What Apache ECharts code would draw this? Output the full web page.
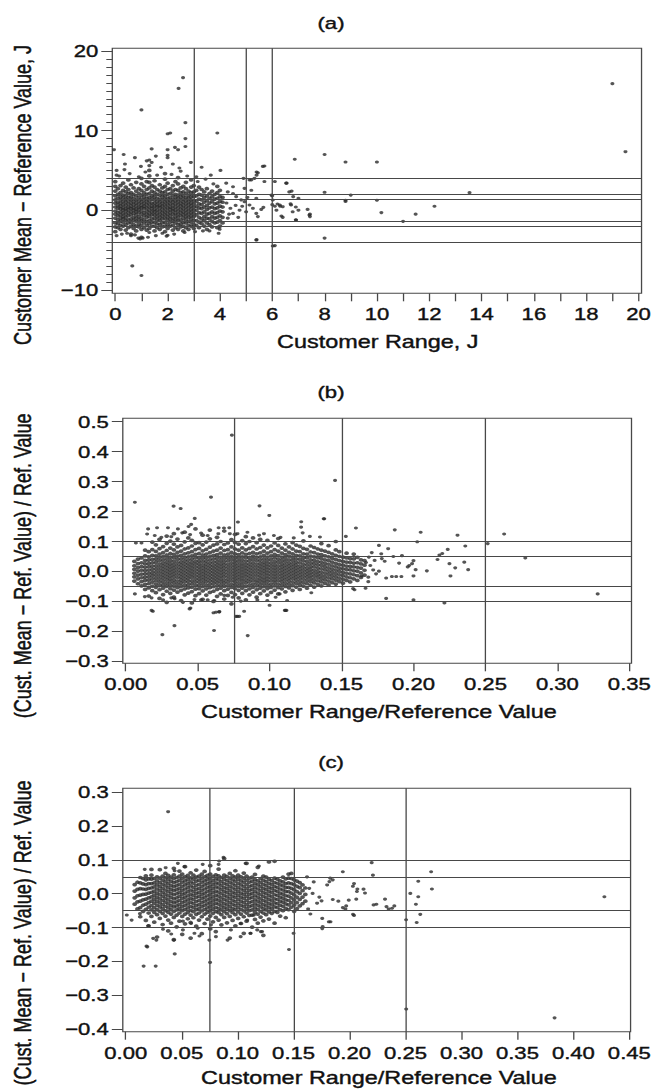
<!DOCTYPE html>
<html>
<head>
<meta charset="utf-8">
<script src="https://cdn.jsdelivr.net/npm/echarts@6/dist/echarts.min.js"></script>
<style>
  html, body { margin: 0; padding: 0; background: #fff; overflow: hidden; }
  /* the scanned figure is stretched sideways, so the chart is drawn narrow and widened */
  #chart { width: 504px; height: 1090px; transform: scaleX(1.2996); transform-origin: 0 0; }
</style>
</head>
<body>
<div id="chart"></div>
<script>
const K = 655 / 504;
const sx = v => v / K;

// ---------- panel (a): Customer Range, J vs Customer Mean - Reference Value, J
const aXTicks = [0,1,2,3,4,5,6,7,8,9,10,11,12,13,14,15,16,17,18,19,20];
const aXLabels = [0,2,4,6,8,10,12,14,16,18,20];
const aYMajor = [-10,0,10,20];
const aYMinor = [-10,-9,-8,-7,-6,-5,-4,-3,-2,-1,0,1,2,3,4,5,6,7,8,9,10,11,12,13,14,15,16,17,18,19,20];
const aVLines = [3,5,6];
const aHLines = [4,2,1.4,-1.4,-2,-4];
// columns: [range, mean-ref values...]
const aCore = [
  [0.0,-2.7,-2.1,-1.6,-1.0,-0.5,-0.1,0.4,0.9,1.3,1.8,2.4,3.0,3.6],
  [0.1,-2.2,-1.7,-1.2,-0.7,-0.3,0.2,0.6,1.0,1.5,2.0,2.7],
  [0.2,-2.4,-1.9,-1.4,-1.0,-0.6,-0.2,0.2,0.5,0.9,1.3,1.7,2.2,3.1],
  [0.3,-2.0,-1.5,-1.1,-0.8,-0.4,0.0,0.3,0.7,1.1,1.5,1.9,2.5,3.4],
  [0.4,-2.5,-1.8,-1.3,-0.9,-0.5,-0.1,0.2,0.6,1.0,1.4,1.8,2.3,2.9],
  [0.5,-2.2,-1.6,-1.2,-0.7,-0.3,0.1,0.4,0.8,1.2,1.6,2.1,2.6,3.8],
  [0.6,-3.0,-2.0,-1.5,-1.1,-0.6,-0.2,0.2,0.5,0.9,1.3,1.7,2.2,3.2],
  [0.7,-2.3,-1.8,-1.3,-0.9,-0.4,0.0,0.3,0.7,1.1,1.5,2.0,2.8],
  [0.8,-2.6,-2.0,-1.4,-1.0,-0.6,-0.2,0.1,0.5,0.9,1.3,1.8,2.4,3.5],
  [0.9,-2.1,-1.7,-1.2,-0.8,-0.3,0.1,0.4,0.8,1.2,1.6,2.1,2.7],
  [1.0,-3.4,-2.4,-1.9,-1.4,-1.0,-0.5,-0.1,0.3,0.6,1.0,1.4,1.9,2.5,3.3,4.0],
  [1.1,-2.2,-1.6,-1.2,-0.7,-0.3,0.2,0.5,0.9,1.3,1.7,2.2,3.0],
  [1.2,-2.5,-1.9,-1.4,-0.9,-0.5,-0.1,0.3,0.7,1.1,1.5,2.0,2.6,3.6],
  [1.3,-2.3,-1.7,-1.3,-0.8,-0.4,0.0,0.4,0.8,1.2,1.6,2.1,2.8,3.5,4.3,5.0],
  [1.4,-2.0,-1.5,-1.1,-0.6,-0.2,0.2,0.5,0.9,1.4,1.8,2.4,3.1],
  [1.5,-2.6,-2.0,-1.5,-1.0,-0.6,-0.2,0.1,0.5,0.9,1.3,1.7,2.2,2.9,3.7],
  [1.6,-2.2,-1.7,-1.2,-0.8,-0.4,0.0,0.4,0.7,1.1,1.5,2.0,2.6],
  [1.7,-2.4,-1.8,-1.3,-0.9,-0.5,-0.1,0.3,0.6,1.0,1.4,1.9,2.4,3.2],
  [1.8,-2.1,-1.6,-1.1,-0.7,-0.3,0.1,0.5,0.9,1.3,1.7,2.2,2.8],
  [1.9,-2.7,-2.0,-1.5,-1.0,-0.6,-0.2,0.2,0.6,1.0,1.4,1.8,2.3,3.0,3.9,4.6],
  [2.0,-2.3,-1.8,-1.3,-0.9,-0.5,-0.1,0.3,0.7,1.1,1.5,2.0,2.6,3.4],
  [2.1,-2.0,-1.5,-1.1,-0.7,-0.3,0.1,0.4,0.8,1.2,1.6,2.1,2.7],
  [2.2,-2.5,-1.9,-1.4,-1.0,-0.5,-0.1,0.2,0.6,1.0,1.4,1.9,2.4,3.1],
  [2.3,-2.2,-1.6,-1.2,-0.8,-0.4,0.0,0.4,0.8,1.2,1.6,2.0,2.6,3.6],
  [2.4,-2.4,-1.8,-1.3,-0.9,-0.5,-0.1,0.3,0.7,1.1,1.5,1.9,2.5,3.3,4.1],
  [2.5,-2.1,-1.7,-1.2,-0.7,-0.3,0.1,0.5,0.9,1.3,1.7,2.2,2.8],
  [2.6,-2.6,-2.0,-1.5,-1.0,-0.6,-0.2,0.2,0.6,1.0,1.4,1.8,2.3,3.0],
  [2.7,-2.2,-1.6,-1.2,-0.8,-0.4,0.0,0.4,0.8,1.2,1.6,2.1,2.7,3.5],
  [2.8,-2.4,-1.9,-1.4,-0.9,-0.5,-0.1,0.3,0.7,1.1,1.5,1.9,2.4],
  [2.9,-2.0,-1.5,-1.1,-0.7,-0.3,0.1,0.5,0.9,1.3,1.7,2.2,2.9,3.8],
  [3.0,-2.3,-1.8,-1.3,-0.8,-0.4,0.0,0.4,0.8,1.2,1.7,2.3,3.1],
  [3.1,-1.9,-1.3,-0.6,0.0,0.5,1.1,1.8,2.5],
  [3.2,-2.2,-1.5,-0.9,-0.3,0.3,0.8,1.4,2.0,2.9],
  [3.3,-1.7,-1.1,-0.4,0.2,0.7,1.3,1.9,2.6],
  [3.4,-2.0,-1.3,-0.8,-0.2,0.4,1.0,1.6,2.3],
  [3.5,-2.4,-1.6,-1.0,-0.5,0.1,0.6,1.2,1.8,2.7],
  [3.6,-1.8,-1.1,-0.4,0.3,0.9,1.5,2.1],
  [3.7,-2.1,-1.4,-0.8,-0.2,0.4,1.1,1.7,2.4],
  [3.8,-1.6,-1.0,-0.4,0.2,0.8,1.4,2.0],
  [3.9,-2.2,-1.5,-0.9,-0.3,0.3,0.9,1.5,2.2,3.0],
  [4.0,-2.0,-1.3,-0.7,-0.1,0.5,1.1,1.7,2.5],
  [4.1,-1.6,-0.9,-0.2,0.4,1.0,1.6]
];
const aSparse = [
  [2.59,16.65],[2.42,15.3],[1.0,12.6],[2.68,11.0],[2.0,9.6],[2.1,9.7],[3.9,9.7],[2.68,9.0],[2.68,8.0],
  [1.39,7.7],[-0.05,7.6],[0.32,7.0],[2.0,7.6],[2.0,6.9],[2.0,6.6],[2.28,7.9],[2.4,7.6],[2.89,6.0],
  [3.3,5.4],[4.02,5.0],[0.37,5.8],[0.98,5.5],[1.39,6.0],[6.86,6.4],[8.0,7.0],[8.8,6.05],[10.0,6.05],
  [19.0,15.9],[19.5,7.35],[5.7,5.55],[5.4,4.8],[5.4,4.4],[4.9,4.0],[5.2,3.8],[5.7,3.6],[6.55,3.4],
  [6.74,2.4],[8.0,2.25],[6.8,1.7],[7.0,1.5],[9.0,1.9],[8.8,1.25],[8.8,1.1],[10.0,1.25],[13.54,2.2],
  [12.2,0.5],[10.17,-0.3],[11.48,-0.5],[11.0,-1.4],[8.0,-3.5],[6.1,-4.45],[5.4,-3.7],[0.95,-3.6],
  [1.05,-3.5],[0.65,-7.0],[1.0,-8.2],[2.0,-3.15],[0.6,-3.2],[1.3,-2.8],[7.44,-0.8],[7.44,-0.5],
  [7.0,0.0],[6.9,-1.2],[6.4,-0.9],[6.9,0.4],[6.7,0.8],[6.3,0.5],[6.0,0.7],[6.1,0.5],[6.0,1.8],[6.1,3.6],
  [4.3,2.3],[4.5,2.1],[4.62,1.7],[4.81,1.3],[4.94,1.07],[4.4,0.24],[4.5,-0.4],[4.3,-1.0],[4.75,0.0],
  [5.0,-0.2],[5.13,0.65],[5.26,0.24],[5.39,-0.4],[5.45,-0.8],[5.58,0.1],[5.66,0.36],[5.39,1.5],
  [5.2,2.5],[5.32,4.0],[5.45,4.7],[5.64,5.5],[5.13,3.8],[4.24,3.4],[4.5,2.95],[4.94,2.75],[5.39,-3.75],
  [6.02,-4.5],[0.88,-3.5],[1.96,-3.25],[3.35,-2.6],[3.99,-2.4],[6.72,0.65],[6.78,-0.2],[7.35,0.1],
  [7.42,-0.6],[6.91,-1.23],[6.53,3.4],[6.65,2.3],[5.97,1.9],[6.02,1.28],[6.29,0.65],[6.4,0.44],
  [6.35,-0.73],[6.16,0.0],[6.2,0.78],[4.25,0.9],[4.35,-0.5],[4.6,0.6],[4.7,-0.9],[4.85,0.5],[5.05,1.6],
  [0.15,4.3],[0.55,4.6],[0.9,4.2],[1.15,4.8],[1.6,4.4],[2.15,4.5],[2.5,4.9],[2.75,4.3],[3.1,4.2],
  [3.45,3.9],[3.65,4.4],[0.35,5.1],[1.75,5.4],[2.2,5.8],[1.2,6.2],[0.75,6.6],[1.55,6.8],[3.15,3.6],
  [3.75,3.3],[0.05,5.0],[0.05,4.4],[1.3,5.6],[1.3,6.3],[2.45,5.3],
  [0.25,-3.0],[0.45,-2.9],[0.75,-3.1],[1.55,-3.2],[1.8,-2.9],[2.25,-3.0],[2.65,-2.8],[3.05,-2.7],
  [3.6,-2.6],[3.95,-2.9],[0.05,-3.2],[1.25,-3.4]
];

// ---------- panel (b): Customer Range/Reference Value vs (Cust. Mean - Ref. Value)/Ref. Value
const bXTicks = [0,0.05,0.1,0.15,0.2,0.25,0.3,0.35];
const bYTicks = [-0.3,-0.2,-0.1,0,0.1,0.2,0.3,0.4,0.5];
const bVLines = [0.075,0.15,0.25];
const bHLines = [0.1,0.05,-0.05,-0.1];
const bCore = [
  [.006,-.032,-.018,-.006,.007,.019,.034],
  [.0085,-.041,-.025,-.012,.001,.013,.026,.041],
  [.011,-.048,-.034,-.021,-.009,.004,.016,.029,.045],
  [.0135,-.06,-.043,-.03,-.019,-.008,.003,.014,.025,.037,.052,.071],
  [.016,-.082,-.055,-.041,-.029,-.018,-.007,.004,.015,.026,.038,.049,.066],
  [.0185,-.064,-.049,-.036,-.025,-.014,-.004,.007,.018,.029,.04,.054,.073,.098],
  [.021,-.071,-.053,-.042,-.031,-.021,-.011,-.001,.009,.019,.03,.041,.052,.067,.089],
  [.0235,-.09,-.061,-.047,-.036,-.026,-.016,-.006,.004,.014,.024,.035,.046,.058,.076,.107],
  [.026,-.077,-.056,-.044,-.033,-.022,-.012,-.002,.008,.018,.028,.039,.05,.063,.083],
  [.0285,-.103,-.066,-.05,-.039,-.028,-.018,-.008,.002,.012,.022,.032,.043,.055,.07,.094,.118],
  [.031,-.073,-.057,-.045,-.034,-.024,-.014,-.004,.006,.016,.026,.037,.048,.06,.078,.101],
  [.0335,-.086,-.062,-.049,-.038,-.028,-.017,-.007,.003,.013,.023,.034,.045,.057,.072,.091,.126],
  [.036,-.069,-.054,-.043,-.032,-.021,-.011,-.001,.009,.019,.029,.04,.051,.064,.082,.108],
  [.0385,-.097,-.063,-.05,-.039,-.029,-.019,-.009,.001,.011,.021,.031,.042,.054,.068,.087],
  [.041,-.078,-.058,-.046,-.035,-.025,-.015,-.005,.005,.015,.025,.035,.046,.059,.075,.099,.131],
  [.0435,-.072,-.055,-.044,-.033,-.023,-.013,-.003,.007,.017,.027,.038,.049,.062,.079,.112],
  [.046,-.105,-.067,-.052,-.041,-.031,-.02,-.01,0,.01,.02,.03,.041,.052,.066,.085,.104],
  [.0485,-.081,-.059,-.047,-.036,-.026,-.016,-.006,.004,.014,.024,.034,.045,.057,.073,.094,.142],
  [.051,-.074,-.057,-.045,-.034,-.024,-.014,-.004,.006,.016,.026,.036,.047,.06,.077,.096],
  [.0535,-.093,-.065,-.051,-.04,-.029,-.019,-.009,.001,.011,.021,.032,.043,.055,.069,.089,.121],
  [.056,-.079,-.058,-.046,-.035,-.025,-.015,-.005,.005,.015,.025,.035,.046,.058,.074,.098],
  [.0585,-.07,-.054,-.043,-.032,-.022,-.012,-.002,.008,.018,.028,.039,.05,.063,.081,.109,.138],
  [.061,-.1,-.066,-.051,-.04,-.03,-.02,-.01,0,.01,.02,.031,.042,.054,.068,.088],
  [.0635,-.083,-.06,-.048,-.037,-.027,-.017,-.007,.003,.013,.023,.033,.044,.056,.071,.092,.114],
  [.066,-.075,-.056,-.045,-.034,-.024,-.014,-.004,.006,.016,.026,.037,.048,.061,.078,.1],
  [.0685,-.092,-.064,-.05,-.039,-.029,-.018,-.008,.002,.012,.022,.032,.043,.055,.07,.09,.135],
  [.071,-.08,-.059,-.047,-.036,-.026,-.016,-.006,.004,.014,.024,.035,.046,.058,.073,.095],
  [.0735,-.108,-.07,-.053,-.042,-.031,-.021,-.011,-.001,.009,.019,.029,.04,.051,.064,.082,.106],
  [.076,-.077,-.057,-.045,-.034,-.024,-.014,-.004,.006,.016,.026,.036,.047,.059,.075,.097,.124],
  [.0785,-.088,-.063,-.05,-.039,-.028,-.018,-.008,.002,.012,.022,.033,.044,.056,.071,.091],
  [.081,-.073,-.056,-.044,-.033,-.023,-.013,-.003,.007,.017,.027,.038,.049,.062,.079,.103],
  [.0835,-.095,-.064,-.05,-.038,-.028,-.017,-.007,.003,.013,.023,.034,.045,.057,.072,.093,.116],
  [.086,-.078,-.058,-.046,-.035,-.025,-.015,-.005,.005,.015,.025,.036,.047,.06,.077,.1],
  [.0885,-.069,-.053,-.042,-.031,-.021,-.011,-.001,.009,.019,.029,.04,.051,.064,.083,.112],
  [.091,-.086,-.061,-.048,-.037,-.027,-.016,-.006,.004,.014,.024,.035,.046,.059,.075,.096],
  [.0935,-.074,-.056,-.044,-.033,-.023,-.013,-.003,.007,.017,.027,.038,.049,.062,.08,.107],
  [.096,-.065,-.051,-.04,-.03,-.02,-.009,.001,.011,.021,.031,.042,.054,.068,.088],
  [.0985,-.079,-.057,-.045,-.034,-.024,-.014,-.004,.006,.016,.026,.037,.048,.061,.079,.104],
  [.101,-.07,-.053,-.042,-.031,-.021,-.011,-.001,.009,.019,.029,.04,.052,.066,.085],
  [.1035,-.062,-.048,-.037,-.027,-.017,-.007,.003,.013,.023,.034,.045,.057,.073,.095],
  [.106,-.075,-.054,-.042,-.031,-.021,-.011,-.001,.009,.019,.03,.041,.053,.068,.087,.11],
  [.1085,-.058,-.045,-.034,-.024,-.014,-.004,.006,.016,.026,.037,.048,.061,.078],
  [.111,-.068,-.05,-.039,-.028,-.018,-.008,.002,.012,.022,.033,.044,.056,.071,.092],
  [.1135,-.055,-.043,-.032,-.022,-.012,-.002,.008,.018,.028,.039,.051,.064,.082],
  [.116,-.063,-.047,-.036,-.025,-.015,-.005,.005,.015,.025,.036,.047,.059,.075,.096],
  [.1185,-.052,-.04,-.029,-.019,-.009,.001,.011,.021,.031,.042,.054,.068,.088],
  [.121,-.06,-.044,-.033,-.022,-.012,-.002,.008,.018,.029,.04,.052,.066,.084],
  [.1235,-.049,-.037,-.026,-.016,-.006,.004,.014,.024,.035,.046,.059,.077,.102],
  [.126,-.056,-.041,-.03,-.019,-.009,.001,.011,.022,.033,.045,.058,.074],
  [.1285,-.046,-.034,-.023,-.013,-.003,.007,.017,.028,.039,.051,.065,.085],
  [.131,-.052,-.038,-.027,-.016,-.006,.004,.015,.026,.037,.049,.063,.08],
  [.1335,-.043,-.031,-.02,-.01,0,.011,.022,.033,.045,.058,.075],
  [.136,-.048,-.035,-.024,-.013,-.002,.009,.02,.031,.043,.056,.071,.093],
  [.1385,-.04,-.028,-.017,-.006,.005,.016,.027,.039,.052,.068],
  [.141,-.045,-.032,-.021,-.01,.001,.012,.024,.036,.049,.064,.086],
  [.1435,-.037,-.025,-.014,-.003,.008,.019,.031,.044,.059],
  [.146,-.042,-.029,-.018,-.007,.004,.015,.027,.04,.054,.072,.1],
  [.1485,-.034,-.022,-.011,0,.011,.023,.036,.05,.066],
  [.151,-.039,-.026,-.014,-.003,.009,.021,.034,.048],
  [.1535,-.03,-.018,-.006,.006,.018,.031,.045,.061],
  [.156,-.035,-.021,-.008,.005,.017,.03,.043],
  [.1585,-.025,-.011,.002,.015,.028,.042,.058],
  [.161,-.03,-.014,.001,.014,.029,.047],
  [.1635,-.02,-.005,.011,.025,.039],
  [.166,-.012,.004,.021,.036]
];
const bSparse = [
  [.0738,.455],[.1455,.304],[.0593,.248],[.0064,.231],[.0333,.218],[.0382,.21],[.093,.219],[.0998,.187],
  [.138,.176],[.048,.177],[.078,.165],[.16,.145],[.187,.139],[.205,.131],[.2306,.121],[.263,.125],
  [.2516,.093],[.2777,.045],[.328,-.075],[.2026,.099],[.176,.087],[.1824,.076],[.2238,.0736],[.236,.085],
  [.22,.06],[.218,.055],[.2353,.031],[.238,.006],[.229,.012],[.2257,-.015],[.225,.026],[.2167,.04],
  [.2093,.002],[.2015,.006],[.199,.026],[.197,.02],[.196,.015],[.2,.036],[.1916,-.017],[.188,-.017],
  [.185,-.017],[.181,-.022],[.2,-.015],[.1776,.059],[.176,.001],[.173,.037],[.18,.034],[.178,.043],
  [.19,.028],[.192,.053],[.186,.05],[.2215,-.105],[.2,-.095],[.181,-.09],[.1667,-.056],[.159,-.061],
  [.1686,-.034],[.1686,-.019],[.164,-.015],[.153,.117],[.1376,.176],[.122,.166],[.123,.129],[.128,.117],
  [.135,.115],[.1106,-.13],[.129,-.071],[.0189,-.133],[.0339,-.181],[.0255,-.211],[.0614,-.197],
  [.0848,-.214],[.065,-.135],[.061,-.138],[.0776,-.15],[.0823,-.133],[.1117,-.13],[.1,-.113],[.045,-.122],
  [.107,-.075],[.158,-.057],[.17,.02],[.172,.005],[.169,.048],[.174,-.008],[.167,.03],[.171,.063],
  [.0156,.142],[.0218,.146],[.0294,.146],[.0363,.142],[.0437,.15],[.0455,.157],[.0149,.125],[.0202,.12],
  [.0248,.114],[.0317,.116],[.0393,.129],[.0448,.123],[.0524,.128],[.057,.12],[.0646,.146],[.0683,.145],
  [.072,.146],[.0724,.126],[.0644,.126],[.0071,.095],[.011,.095],[.0777,.126],[.0846,.131],[.0927,.121],
  [.0961,.126],[.103,.12],[.1076,.114],[.1168,.112],[.1219,.148],
  [.0064,-.075],[.0133,-.084],[.018,-.088],[.026,-.095],[.034,-.091],[.0398,-.103],[.0478,-.094],
  [.0524,-.095],[.057,-.095],[.0616,-.097],[.0685,-.08],[.0743,-.086],[.08,-.099],[.0915,-.095],
  [.0984,-.097],[.1042,-.086],[.1122,-.097],[.0317,-.088],[.018,-.13],[.0444,-.125],[.0628,-.136],
  [.0651,-.134],[.0766,-.15],[.0789,-.15],[.1111,-.13]
];

// ---------- panel (c)
const cXTicks = [0,0.05,0.1,0.15,0.2,0.25,0.3,0.35,0.4,0.45];
const cYTicks = [-0.4,-0.3,-0.2,-0.1,0,0.1,0.2,0.3];
const cVLines = [0.075,0.15,0.25];
const cHLines = [0.1,0.05,-0.05,-0.1];
const cCore = [
  [.008,-.031,-.012,.008,.027],
  [.0105,-.045,-.024,-.006,.013,.034],
  [.013,-.068,-.041,-.022,-.004,.015,.032,.048],
  [.0155,-.052,-.034,-.018,-.002,.014,.029,.045],
  [.018,-.079,-.046,-.031,-.016,-.001,.013,.027,.041,.053],
  [.0205,-.095,-.057,-.04,-.026,-.012,.002,.016,.03,.044],
  [.023,-.067,-.048,-.035,-.022,-.009,.004,.017,.03,.043,.055,.072],
  [.0255,-.084,-.055,-.041,-.028,-.016,-.004,.008,.02,.032,.045],
  [.028,-.128,-.062,-.047,-.034,-.022,-.01,.002,.014,.026,.038,.05],
  [.0305,-.073,-.052,-.039,-.027,-.015,-.003,.009,.021,.033,.046,.071],
  [.033,-.091,-.058,-.044,-.032,-.02,-.008,.004,.016,.028,.04,.052],
  [.0355,-.066,-.05,-.037,-.025,-.013,-.001,.011,.023,.035,.047,.06],
  [.038,-.11,-.078,-.055,-.042,-.03,-.018,-.006,.006,.018,.03,.042,.054],
  [.0405,-.087,-.06,-.047,-.035,-.023,-.011,.001,.013,.025,.037,.049],
  [.043,-.136,-.07,-.052,-.039,-.027,-.015,-.003,.009,.021,.033,.045,.056,.075],
  [.0455,-.098,-.063,-.048,-.036,-.024,-.012,0,.012,.024,.036,.048],
  [.048,-.081,-.057,-.044,-.032,-.02,-.008,.004,.016,.028,.04,.052,.067],
  [.0505,-.12,-.067,-.05,-.038,-.026,-.014,-.002,.01,.022,.034,.046,.058],
  [.053,-.089,-.06,-.046,-.034,-.022,-.01,.002,.014,.026,.038,.05,.08],
  [.0555,-.074,-.055,-.042,-.03,-.018,-.006,.006,.018,.03,.042,.054],
  [.058,-.131,-.085,-.063,-.049,-.037,-.025,-.013,-.001,.011,.023,.035,.047,.062],
  [.0605,-.071,-.053,-.041,-.029,-.017,-.005,.007,.019,.031,.043,.055],
  [.063,-.096,-.061,-.047,-.035,-.023,-.011,.001,.013,.025,.037,.049,.07],
  [.0655,-.078,-.057,-.044,-.032,-.02,-.008,.004,.016,.028,.04,.052],
  [.068,-.118,-.068,-.051,-.038,-.026,-.014,-.002,.01,.022,.034,.046,.058],
  [.0705,-.088,-.06,-.046,-.034,-.022,-.01,.002,.014,.026,.038,.05,.066],
  [.073,-.075,-.055,-.042,-.03,-.018,-.006,.006,.018,.03,.042,.054],
  [.0755,-.104,-.066,-.05,-.038,-.026,-.014,-.002,.01,.022,.034,.046,.058,.083],
  [.078,-.083,-.058,-.045,-.033,-.021,-.009,.003,.015,.027,.039,.051],
  [.0805,-.112,-.07,-.052,-.04,-.028,-.016,-.004,.008,.02,.032,.044,.056],
  [.083,-.078,-.056,-.043,-.031,-.019,-.007,.005,.017,.029,.041,.053,.073],
  [.0855,-.092,-.062,-.048,-.036,-.024,-.012,0,.012,.024,.036,.048],
  [.088,-.07,-.053,-.041,-.029,-.017,-.005,.007,.019,.031,.043,.055,.104],
  [.0905,-.086,-.059,-.045,-.033,-.021,-.009,.003,.015,.027,.039,.051],
  [.093,-.131,-.067,-.05,-.038,-.026,-.014,-.002,.01,.022,.034,.046,.06],
  [.0955,-.079,-.056,-.043,-.031,-.019,-.007,.005,.017,.029,.041,.053],
  [.098,-.095,-.062,-.047,-.035,-.023,-.011,.001,.013,.025,.037,.049,.068],
  [.1005,-.073,-.054,-.041,-.029,-.017,-.005,.007,.019,.031,.043,.055],
  [.103,-.088,-.06,-.046,-.034,-.022,-.01,.002,.014,.026,.038,.05],
  [.1055,-.117,-.068,-.051,-.038,-.026,-.014,-.002,.01,.022,.034,.046,.061],
  [.108,-.081,-.057,-.044,-.032,-.02,-.008,.004,.016,.028,.04,.052,.09],
  [.1105,-.064,-.05,-.038,-.026,-.014,-.002,.01,.022,.034,.046],
  [.113,-.099,-.063,-.048,-.035,-.023,-.011,.001,.013,.025,.037,.049],
  [.1155,-.076,-.055,-.042,-.03,-.018,-.006,.006,.018,.03,.042,.057],
  [.118,-.087,-.06,-.046,-.034,-.022,-.01,.002,.014,.026,.038,.078],
  [.1205,-.069,-.052,-.039,-.027,-.015,-.003,.009,.021,.033,.045],
  [.123,-.123,-.08,-.057,-.044,-.032,-.02,-.008,.004,.016,.028,.04,.052],
  [.1255,-.062,-.048,-.036,-.024,-.012,0,.012,.024,.036,.049],
  [.128,-.075,-.054,-.041,-.029,-.017,-.005,.007,.019,.031,.043,.094],
  [.1305,-.058,-.045,-.033,-.021,-.009,.003,.015,.027,.039],
  [.133,-.087,-.052,-.039,-.027,-.015,-.003,.009,.021,.033,.046,.096],
  [.1355,-.055,-.041,-.029,-.017,-.005,.007,.019,.031,.043],
  [.138,-.066,-.047,-.034,-.022,-.01,.002,.014,.026,.038],
  [.1405,-.05,-.037,-.025,-.013,-.001,.011,.023,.035,.049],
  [.143,-.071,-.043,-.03,-.018,-.006,.006,.018,.03,.044],
  [.1455,-.047,-.033,-.02,-.007,.006,.019,.032,.046,.058],
  [.148,-.04,-.026,-.012,.002,.016,.03,.045,.06],
  [.1505,-.052,-.034,-.018,-.003,.012,.027,.041],
  [.153,-.044,-.026,-.01,.006,.022,.037],
  [.1555,-.036,-.017,.001,.018,.033],
  [.158,-.029,-.01,.009,.026],
  [.1605,-.022,-.002,.017]
];
const cSparse = [
  [.0379,.2426],[.4277,-.009],[.3832,-.367],[.2506,-.341],[.0754,-.203],[.016,-.214],[.0268,-.214],
  [.0193,-.157],[.0438,-.178],[.1459,-.165],[.15,-.117],[.2198,.092],[.2209,.055],[.2729,.065],
  [.2736,.014],[.2614,.037],[.2614,-.009],[.2593,-.031],[.2543,.001],[.2632,-.061],[.26,-.085],
  [.2505,-.077],[.233,-.038],[.238,-.043],[.24,-.036],[.224,-.031],[.2138,.002],[.204,.03],[.207,.014],
  [.194,.065],[.204,-.064],[.176,-.097],[.183,-.083],[.1827,.046],[.182,.036],[.185,-.017],[.19,-.022],
  [.194,-.041],[.197,-.036],[.173,-.01],[.175,-.021],[.171,-.028],[.164,.016],[.167,.001],[.2317,-.016],
  [.235,-.045],[.2215,-.033],[.2031,-.061],[.2125,.0135],[.2066,.0066],[.206,-.016],[.203,.022],
  [.1993,-.019],[.1963,-.045],[.1815,-.083],[.1756,-.103],[.1756,-.073],[.18,.026],[.185,.041],
  [.017,.0722],[.0357,.077],[.0466,.0899],[.0525,.08],[.0688,.0869],[.0835,.0968],[.0874,.1076],
  [.083,.087],[.1071,.0899],[.119,.082],[.0437,.068],[.001,-.063],[.0053,-.078],[.0127,-.059],
  [.0201,-.095],[.0245,-.132],[.0274,-.137],[.0186,-.155],[.0333,-.105],[.0407,-.119],[.043,-.137],
  [.0511,-.107],[.0614,-.117],[.0659,-.125],[.0747,-.137],[.0806,-.127],[.091,-.137],[.094,-.107],
  [.1027,-.127],[.1116,-.117],[.1175,-.107],[.1219,-.112],[.0762,-.092],[.0584,-.088],[.0511,-.081],
  [.0643,-.102],[.1027,-.088],[.1086,-.078],[.1145,-.063],[.1114,-.117],[.1207,-.112],[.163,-.045],
  [.162,.05],[.165,-.06],[.168,.035]
];

const titles = ['(a)', '(b)', '(c)'];
const xNames = ['Customer Range, J', 'Customer Range/Reference Value', 'Customer Range/Reference Value'];
const yNames = ['Customer Mean \u2212 Reference Value, J',
  '(Cust. Mean \u2212 Ref. Value) / Ref. Value',
  '(Cust. Mean \u2212 Ref. Value) / Ref. Value'];

function flatten(cols) {
  const out = [];
  cols.forEach(c => { for (let i = 1; i < c.length; i++) out.push([c[0], c[i]]); });
  return out;
}
const fmt = d => v => (v < 0 ? '\u2212' : '') + Math.abs(v).toFixed(d);

const FONT = 'Liberation Sans, Arial, Helvetica, sans-serif';
const INK = '#111';
const LINE = '#484848';
const DOT = '#2b2b2b';

// box of each panel in page pixels (x is divided by K because of the stretch)
const boxes = [
  {l: 112.3, r: 643.3, t: 48.3, b: 293.3},
  {l: 122.8, r: 635.0, t: 418.3, b: 663.3},
  {l: 122.8, r: 635.0, t: 788.3, b: 1031.7}
];

const grids = boxes.map(bx => ({
  left: sx(bx.l), top: bx.t, width: sx(bx.r - bx.l), height: bx.b - bx.t,
  show: true, borderColor: LINE, borderWidth: 1, backgroundColor: 'transparent'
}));

const labelStyle = {fontSize: 17, fontFamily: FONT, color: INK, textBorderColor: INK, textBorderWidth: 0.4};

function xAxisOf(gi, min, max, ticks, labels, digits, margin) {
  return {
    type: 'value', gridIndex: gi, min, max,
    axisLine: {show: false, onZero: false},
    splitLine: {show: false},
    axisTick: {show: true, customValues: ticks, length: 8, lineStyle: {color: LINE, width: 1}},
    axisLabel: Object.assign({customValues: labels, formatter: fmt(digits), margin}, labelStyle)
  };
}
function yAxisOf(gi, min, max, ticks, labels, digits, len) {
  return {
    type: 'value', gridIndex: gi, min, max, position: 'left', offset: 0,
    axisLine: {show: false, onZero: false},
    splitLine: {show: false},
    axisTick: {show: true, customValues: ticks, length: len, lineStyle: {color: LINE, width: 1}},
    axisLabel: labels ? Object.assign({customValues: labels, formatter: fmt(digits), margin: sx(14)}, labelStyle) : {show: false}
  };
}

// dense cloud and scattered points; the reference lines ride on the cloud series
function cloud(gi, yi, data, vl, hl) {
  return {
    type: 'scatter', xAxisIndex: gi, yAxisIndex: yi, data,
    symbol: 'circle', symbolSize: 3.7, silent: true,
    itemStyle: {color: DOT},
    markLine: {
      silent: true, symbol: 'none', animation: false, precision: 6,
      label: {show: false},
      lineStyle: {color: LINE, width: 1, type: 'solid'},
      emphasis: {disabled: true},
      data: vl.map(v => ({xAxis: v})).concat(hl.map(v => ({yAxis: v})))
    }
  };
}
function dots(gi, yi, data) {
  return {
    type: 'scatter', xAxisIndex: gi, yAxisIndex: yi, data,
    symbol: 'circle', symbolSize: 3.1, silent: true,
    itemStyle: {color: DOT}
  };
}

const graphic = [];
const titleY = [23, 391.7, 761.7];
const xNameY = [342, 711.7, 1078];
const yNameY = [195, 565.8, 933];
const textStyle = (text, size) => ({text, fontSize: size, fontFamily: FONT, fill: INK, stroke: INK, lineWidth: 0.4, align: 'center', verticalAlign: 'middle'});
boxes.forEach((bx, i) => {
  graphic.push({type: 'text', x: sx(331), y: titleY[i], style: textStyle(titles[i], 17)});
  graphic.push({type: 'text', x: sx((bx.l + bx.r) / 2), y: xNameY[i], style: textStyle(xNames[i], 18)});
  graphic.push({type: 'text', x: sx(23), y: yNameY[i], rotation: Math.PI / 2, style: textStyle(yNames[i], 18)});
});

const chart = echarts.init(document.getElementById('chart'), null, {renderer: 'svg'});
chart.setOption({
  animation: false,
  backgroundColor: '#fff',
  grid: grids,
  xAxis: [
    xAxisOf(0, -0.114, 20.114, aXTicks, aXLabels, 0, 12),
    xAxisOf(1, -0.002, 0.3515, bXTicks, bXTicks, 2, 12),
    xAxisOf(2, -0.0026, 0.4511, cXTicks, cXTicks, 2, 13)
  ],
  yAxis: [
    yAxisOf(0, -10.44, 20.34, aYMajor, aYMajor, 0, sx(11)),
    yAxisOf(0, -10.44, 20.34, aYMinor, null, 0, sx(6)),
    yAxisOf(1, -0.3066, 0.5113, bYTicks, bYTicks, 1, sx(11)),
    yAxisOf(2, -0.408, 0.3118, cYTicks, cYTicks, 1, sx(11))
  ],
  series: [
    cloud(0, 0, flatten(aCore), aVLines, aHLines), dots(0, 0, aSparse),
    cloud(1, 2, flatten(bCore), bVLines, bHLines), dots(1, 2, bSparse),
    cloud(2, 3, flatten(cCore), cVLines, cHLines), dots(2, 3, cSparse)
  ],
  graphic
});
</script>
</body>
</html>
